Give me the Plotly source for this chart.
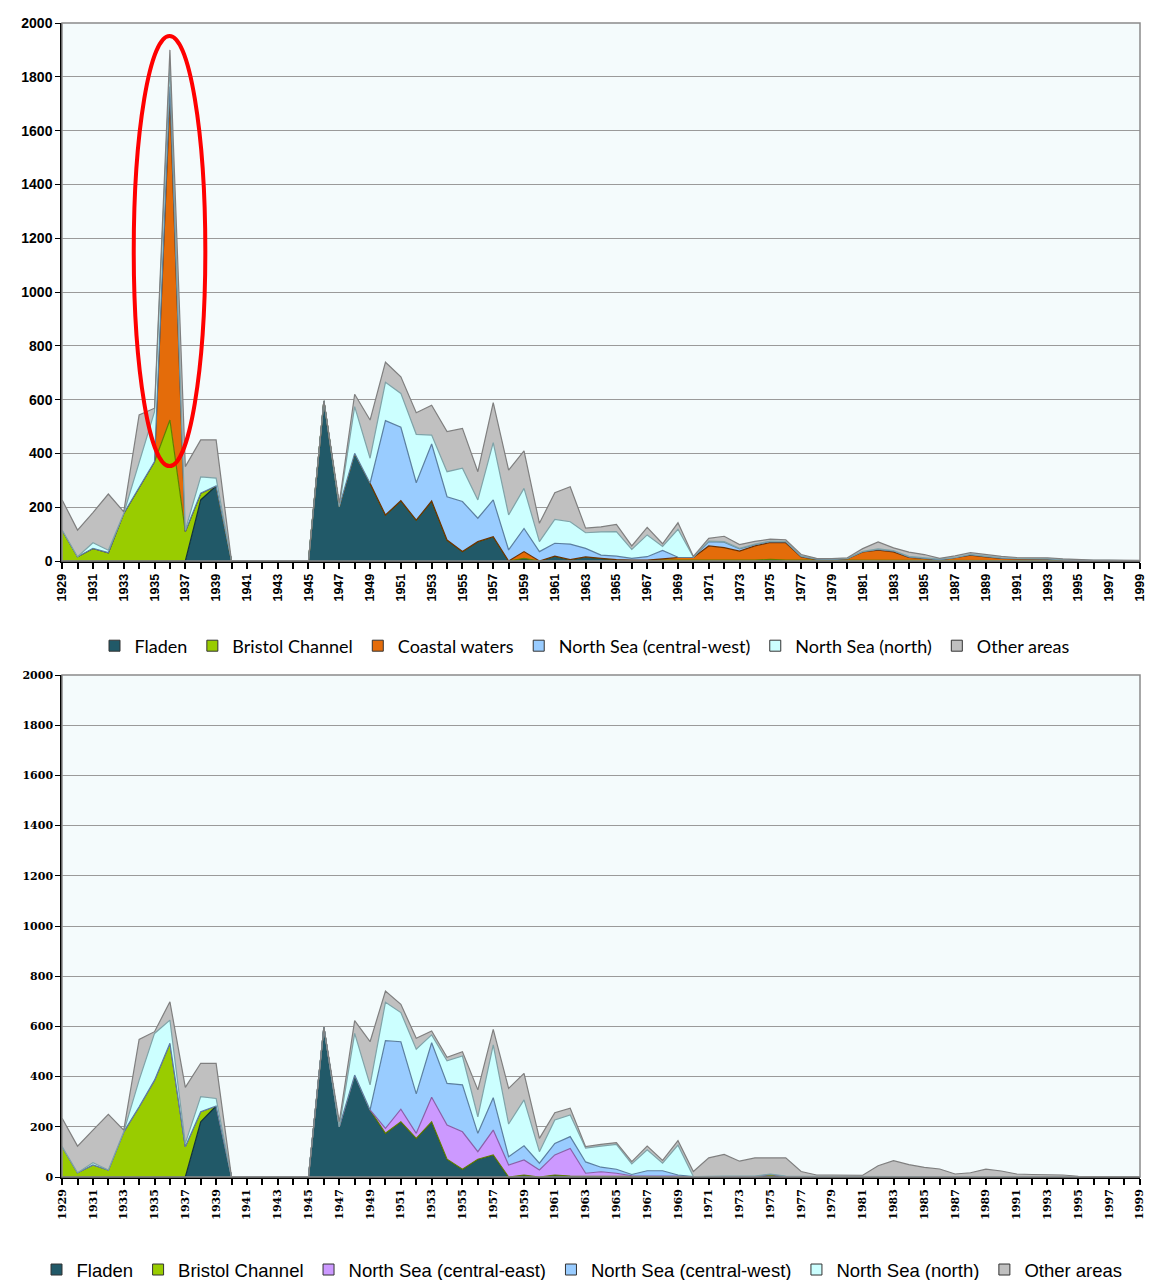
import plotly.graph_objects as go

years = list(range(1929, 2000))

# ---------------- Top chart (values per year 1929..1999) ----------------
top_fladen = [0, 0, 0, 0, 0, 0, 0, 0, 0, 227, 279, 0, 0, 0, 0, 0, 0, 595, 202, 400, 289, 171, 224, 152, 223, 78,
              35, 72, 90, 0, 10, 0, 18, 5, 15, 10, 5, 3, 3, 3, 3, 3, 3, 3, 3, 3, 3, 3, 3, 3, 2, 2,
              2, 2, 2, 2, 2, 2, 2, 2, 2, 2, 2, 2, 2, 2, 1, 1, 1, 1, 1]
top_bristol = [115, 16, 47, 31, 177, 276, 370, 524, 110, 25, 0, 0, 0, 0, 0, 0, 0, 0, 0, 0, 0, 0, 0, 0, 0, 0,
               0, 0, 0, 0, 0, 0, 0, 0, 0, 0, 0, 0, 0, 0, 0, 0, 0, 0, 0, 0, 3, 0, 0, 0, 0, 0,
               0, 0, 0, 0, 0, 0, 0, 0, 0, 0, 0, 0, 0, 0, 0, 0, 0, 0, 0]
top_coastal = [0, 0, 0, 0, 0, 0, 0, 1200, 0, 0, 0, 0, 0, 0, 0, 0, 0, 0, 0, 0, 0, 0, 0, 0, 0, 0,
               0, 0, 0, 0, 25, 0, 0, 0, 0, 0, 0, 0, 0, 5, 10, 10, 53, 47, 34, 53, 63, 65, 12, 3, 3, 7,
               32, 38, 32, 11, 8, 3, 10, 20, 13, 8, 6, 6, 5, 2, 1, 0, 0, 0, 0]
top_cwest = [0, 0, 0, 0, 0, 0, 0, 40, 0, 0, 0, 0, 0, 0, 0, 0, 0, 0, 0, 0, 0, 351, 273, 139, 212, 161,
             186, 87, 137, 41, 86, 35, 48, 58, 32, 12, 13, 7, 13, 31, 1, 0, 16, 20, 8, 5, 3, 3, 2, 1, 1, 0,
             1, 3, 3, 2, 1, 0, 0, 2, 2, 1, 1, 1, 1, 0, 0, 0, 0, 0, 0]
top_north = [0, 0, 21, 9, 0, 87, 185, 80, 5, 61, 29, 0, 0, 0, 0, 0, 0, 0, 0, 174, 93, 142, 126, 180, 33, 93,
             124, 68, 213, 130, 149, 37, 89, 83, 58, 86, 91, 33, 81, 15, 104, 2, 2, 2, 2, 2, 2, 2, 2, 1, 1, 1,
             1, 2, 2, 2, 2, 2, 1, 1, 1, 1, 1, 1, 1, 1, 1, 1, 1, 1, 0]
top_other = [112, 99, 112, 209, 6, 180, 13, 56, 236, 137, 142, 0, 0, 0, 0, 0, 0, 0, 13, 46, 142, 75, 62, 80,
             111, 149, 148, 105, 149, 167, 139, 68, 99, 130, 17, 19, 27, 13, 28, 10, 24, 2, 10, 20, 14, 10, 7, 6,
             5, 2, 2, 2, 10, 26, 10, 16, 11, 3, 6, 6, 6, 5, 3, 3, 3, 3, 2, 1, 1, 1, 1]

# ---------------- Bottom chart ----------------
bot_fladen = [0, 0, 0, 0, 0, 0, 0, 0, 0, 220, 283, 0, 0, 0, 0, 0, 0, 596, 200, 406, 267, 174, 220, 154, 220, 71,
              31, 71, 88, 0, 8, 0, 8, 4, 4, 3, 3, 2, 2, 2, 2, 2, 2, 2, 2, 2, 2, 2, 2, 2, 2, 2,
              1, 1, 1, 1, 1, 1, 1, 1, 1, 1, 1, 1, 1, 1, 1, 0, 0, 0, 0]
bot_bristol = [121, 17, 48, 28, 180, 280, 386, 533, 121, 40, 0, 0, 0, 0, 0, 0, 0, 0, 0, 0, 0, 0, 0, 0, 0, 0,
               0, 0, 0, 0, 0, 0, 0, 0, 0, 0, 0, 0, 0, 0, 0, 0, 0, 0, 0, 0, 8, 0, 0, 0, 0, 0,
               0, 0, 0, 0, 0, 0, 0, 0, 0, 0, 0, 0, 0, 0, 0, 0, 0, 0, 0]
bot_ceast = [0, 0, 0, 0, 0, 0, 0, 0, 0, 0, 0, 0, 0, 0, 0, 0, 0, 0, 0, 0, 0, 20, 50, 20, 98, 136,
             149, 30, 99, 48, 60, 28, 80, 110, 11, 18, 12, 3, 3, 3, 1, 0, 0, 0, 0, 0, 0, 0, 0, 0, 0, 0,
             0, 0, 0, 0, 0, 0, 0, 0, 0, 0, 0, 0, 0, 0, 0, 0, 0, 0, 0]
bot_cwest = [0, 0, 0, 0, 0, 0, 0, 0, 0, 0, 0, 0, 0, 0, 0, 0, 0, 0, 0, 0, 0, 349, 269, 157, 217, 166,
             187, 73, 129, 33, 56, 27, 46, 47, 45, 18, 16, 5, 20, 20, 5, 0, 2, 2, 2, 2, 2, 2, 1, 1, 1, 1,
             1, 1, 1, 1, 1, 1, 0, 0, 0, 0, 0, 0, 0, 0, 0, 0, 0, 0, 0]
bot_north = [0, 0, 9, 0, 0, 106, 186, 92, 13, 60, 30, 0, 0, 0, 0, 0, 0, 0, 0, 166, 100, 153, 116, 178, 31, 90,
             115, 66, 210, 130, 183, 46, 93, 86, 55, 84, 99, 42, 83, 30, 119, 0, 0, 0, 0, 0, 0, 0, 0, 0, 0, 0,
             0, 0, 0, 0, 0, 0, 0, 0, 0, 0, 0, 0, 0, 0, 0, 0, 0, 0, 0]
bot_other = [113, 106, 130, 222, 7, 162, 7, 73, 223, 133, 140, 0, 0, 0, 0, 0, 0, 0, 20, 51, 172, 45, 33, 44,
             16, 14, 17, 107, 62, 142, 106, 53, 29, 27, 6, 7, 7, 9, 15, 11, 18, 20, 72, 86, 59, 72, 64, 72,
             19, 5, 5, 3, 5, 43, 63, 47, 36, 30, 11, 16, 30, 23, 11, 9, 9, 7, 2, 1, 1, 1, 1]

y_ticks = list(range(0, 2001, 200))
x_labels = list(range(1929, 2000, 2))

top_series = [
    ("Fladen", top_fladen, "#215968", "#10323b"),
    ("Bristol Channel", top_bristol, "#99cc00", "#5f7f00"),
    ("Coastal waters", top_coastal, "#e46c0a", "#6b3000"),
    ("North Sea (central-west)", top_cwest, "#99ccff", "#5b7fa0"),
    ("North Sea (north)", top_north, "#ccffff", "#7fa3a8"),
    ("Other areas", top_other, "#c0c0c0", "#7f7f7f"),
]
bot_series = [
    ("Fladen", bot_fladen, "#215968", "#10323b"),
    ("Bristol Channel", bot_bristol, "#99cc00", "#5f7f00"),
    ("North Sea (central-east)", bot_ceast, "#cc99ff", "#8a5fa8"),
    ("North Sea (central-west)", bot_cwest, "#99ccff", "#5b7fa0"),
    ("North Sea (north)", bot_north, "#ccffff", "#7fa3a8"),
    ("Other areas", bot_other, "#c0c0c0", "#7f7f7f"),
]

fig = go.Figure()

for name, vals, fc, lc in top_series:
    fig.add_trace(go.Scatter(x=years, y=vals, name=name, mode="lines", stackgroup="top",
                             fillcolor=fc, line=dict(color=lc, width=1.2),
                             xaxis="x", yaxis="y", showlegend=False))
for name, vals, fc, lc in bot_series:
    fig.add_trace(go.Scatter(x=years, y=vals, name=name, mode="lines", stackgroup="bot",
                             fillcolor=fc, line=dict(color=lc, width=1.2),
                             xaxis="x2", yaxis="y2", showlegend=False))

# legend entries (square swatches, no data marks)
for leg, series, xa, ya in (("legend", top_series, "x", "y"), ("legend2", bot_series, "x2", "y2")):
    for name, vals, fc, lc in series:
        fig.add_trace(go.Scatter(x=[None], y=[None], name=name, mode="markers",
                                 marker=dict(symbol="square", size=11, color=fc,
                                             line=dict(color="#333333", width=1)),
                                 xaxis=xa, yaxis=ya, legend=leg, showlegend=True))

W, H = 1151, 1280


def px(xp):
    return xp / W


def py(yp):
    return 1 - yp / H


xdom = [px(62), px(1140)]
common_x = dict(range=[1928.99, 1999.01], tickvals=x_labels, ticktext=[str(v) for v in x_labels],
                tickangle=-90, ticks="outside", ticklen=6, tickcolor="#000", tickwidth=1.5,
                showline=True, linecolor="#000", linewidth=1.5, showgrid=False, zeroline=False,
                minor=dict(dtick=1, tick0=1929, ticks="outside", ticklen=6, tickcolor="#000",
                           tickwidth=1.5, showgrid=False),
                automargin=False, fixedrange=True)
common_y = dict(range=[0, 2000], tickvals=y_ticks, ticks="outside", ticklen=5, tickcolor="#000",
                showline=True, linecolor="#000", linewidth=1.5, showgrid=True,
                gridcolor="#9a9a9a", gridwidth=1, zeroline=False, automargin=False, fixedrange=True)

fig.update_layout(
    width=W, height=H, margin=dict(l=0, r=0, t=0, b=0, autoexpand=False),
    paper_bgcolor="#ffffff", plot_bgcolor="#f4fbfc", showlegend=True,
    xaxis=dict(domain=xdom, anchor="y",
               tickfont=dict(family="Liberation Sans", size=12.5, color="#000", weight="bold"),
               **common_x),
    yaxis=dict(domain=[py(561), py(23)], anchor="x",
               tickfont=dict(family="Liberation Sans", size=14, color="#000", weight="bold"),
               **common_y),
    xaxis2=dict(domain=xdom, anchor="y2",
                tickfont=dict(family="DejaVu Serif", size=11, color="#000", weight="bold"),
                **common_x),
    yaxis2=dict(domain=[py(1177), py(675)], anchor="x2",
                tickfont=dict(family="DejaVu Serif", size=11, color="#000", weight="bold"),
                **common_y),
    legend=dict(orientation="h", x=px(585), xanchor="center", y=py(646), yanchor="middle",
                font=dict(family="Lato", size=18, color="#000"), itemwidth=30,
                bgcolor="rgba(0,0,0,0)", traceorder="normal", itemclick=False, tracegroupgap=0),
    legend2=dict(orientation="h", x=px(582), xanchor="center", y=py(1270), yanchor="middle",
                 font=dict(family="Liberation Sans", size=18.5, color="#000"), itemwidth=30,
                 bgcolor="rgba(0,0,0,0)", traceorder="normal", itemclick=False, tracegroupgap=0),
)

# light grey plot frames (top and right)
for xr, yr in (("x domain", "y domain"), ("x2 domain", "y2 domain")):
    fig.add_shape(type="rect", xref=xr, yref=yr, x0=0, x1=1, y0=0, y1=1,
                  line=dict(color="#8a8a8a", width=1.5), fillcolor="rgba(0,0,0,0)", layer="above")

# red ellipse highlighting the 1936 spike
fig.add_shape(type="circle", xref="x", yref="y", x0=1933.65, x1=1938.3, y0=353, y1=1952,
              line=dict(color="#ff0000", width=4), layer="above")

fig.write_html("out.html", config={"displayModeBar": False},
               post_script="document.body.style.margin='0';document.body.style.overflow='hidden';")
